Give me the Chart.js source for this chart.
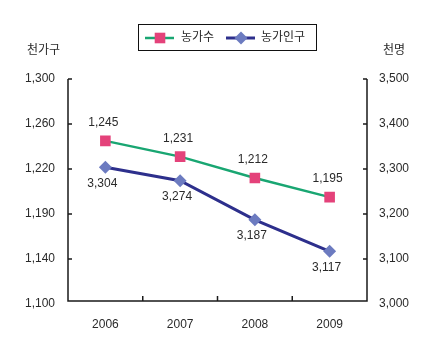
<!DOCTYPE html>
<html>
<head>
<meta charset="utf-8">
<script src="https://cdn.jsdelivr.net/npm/chart.js@4.4.1/dist/chart.umd.min.js"></script>
<style>
  html, body { margin: 0; padding: 0; background: #fff; }
  #wrap { width: 441px; height: 351px; }
</style>
</head>
<body>
<div id="wrap"><canvas id="chart" width="441" height="351"></canvas></div>
<script>
const years = ["2006", "2007", "2008", "2009"];
const households = [1245, 1231, 1212, 1195];   // 농가수 (천가구)
const population = [3304, 3274, 3187, 3117];   // 농가인구 (천명)
const leftTickLabels = ["1,100", "1,140", "1,190", "1,220", "1,260", "1,300"];
const seriesNames = ["농가수", "농가인구"];
const leftUnit = "천가구";
const rightUnit = "천명";

const FONT = "'Liberation Sans', 'Noto Sans CJK KR', sans-serif";
const TEXT = "#2a2a2a";
const fmt = (v) => v.toLocaleString("en-US");

//draws axis lines, inward tick marks, unit titles, legend and value labels
const decor = {
  id: "decor",
  afterDatasetsDraw(chart) {
    const ctx = chart.ctx;
    const area = chart.chartArea;
    const x = chart.scales.x, yl = chart.scales.y, yr = chart.scales.y1;
    const base = area.bottom - 3;
    ctx.save();
    ctx.strokeStyle = "#1a1a1a";
    ctx.lineWidth = 1.5;
    ctx.beginPath();
    ctx.moveTo(area.left, area.top);
    ctx.lineTo(area.left, base);
    ctx.lineTo(area.right, base);
    ctx.lineTo(area.right, area.top);
    //y ticks pointing inwards
    yl.ticks.forEach((t, i) => {
      const py = Math.min(yl.getPixelForTick(i), base);
      ctx.moveTo(area.left, py); ctx.lineTo(area.left + 4, py);
    });
    yr.ticks.forEach((t, i) => {
      const py = Math.min(yr.getPixelForTick(i), base);
      ctx.moveTo(area.right, py); ctx.lineTo(area.right - 4, py);
    });
    //x ticks between categories
    for (let i = 1; i < years.length; i++) {
      const px = (x.getPixelForTick(i - 1) + x.getPixelForTick(i)) / 2;
      ctx.moveTo(px, base); ctx.lineTo(px, base - 5);
    }
    ctx.stroke();

    //unit titles
    ctx.fillStyle = TEXT;
    ctx.font = "12px " + FONT;
    ctx.textBaseline = "middle";
    ctx.textAlign = "left";
    ctx.fillText(leftUnit, 27, 51);
    ctx.fillText(rightUnit, 383, 51);

    //value labels
    ctx.textAlign = "center";
    chart.getDatasetMeta(0).data.forEach((p, i) => {
      ctx.fillText(fmt(households[i]), p.x - 2, p.y - 18);
    });
    chart.getDatasetMeta(1).data.forEach((p, i) => {
      ctx.fillText(fmt(population[i]), p.x - 3, p.y + 16);
    });

    //legend box
    ctx.lineWidth = 1;
    ctx.strokeStyle = "#111";
    ctx.strokeRect(138.5, 24.5, 178, 26);
    const items = [[145, 181], [226, 261]];
    chart.data.datasets.forEach((ds, i) => {
      const [lx, tx] = items[i];
      ctx.strokeStyle = ds.borderColor;
      ctx.lineWidth = ds.borderWidth;
      ctx.beginPath();
      ctx.moveTo(lx, 38); ctx.lineTo(lx + 29, 38);
      ctx.stroke();
      ctx.fillStyle = ds.pointBackgroundColor;
      Chart.helpers.drawPoint(ctx, {
        pointStyle: ds.pointStyle, radius: ds.pointRadius, rotation: 0, borderWidth: 0
      }, lx + 15, 38);
      ctx.fillStyle = TEXT;
      ctx.textAlign = "left";
      ctx.fillText(seriesNames[i], tx, 38);
    });
    ctx.restore();
  },
};

new Chart(document.getElementById("chart"), {
  type: "line",
  plugins: [decor],
  data: {
    labels: years,
    datasets: [
      {
        label: seriesNames[0],
        data: households,
        yAxisID: "y",
        borderColor: "#19a672",
        borderWidth: 2.5,
        pointStyle: "rect",
        pointRadius: 7.5,
        pointBorderWidth: 0,
        pointBackgroundColor: "#e4427a",
        tension: 0,
      },
      {
        label: seriesNames[1],
        data: population,
        yAxisID: "y1",
        borderColor: "#2d2f8c",
        borderWidth: 3,
        pointStyle: "rectRot",
        pointRadius: 6.5,
        pointBorderWidth: 0,
        pointBackgroundColor: "#6c7bc0",
        tension: 0,
      },
    ],
  },
  options: {
    responsive: false,
    animation: false,
    layout: { padding: { top: 79, left: 0, right: 0, bottom: 0 } },
    plugins: { legend: { display: false }, tooltip: { enabled: false } },
    scales: {
      x: {
        offset: true,
        grid: { display: false, drawTicks: false },
        border: { display: false },
        ticks: { color: TEXT, font: { family: FONT, size: 12 }, padding: 13, maxRotation: 0 },
        afterFit: (s) => { s.height = 47; },
      },
      y: {
        position: "left",
        min: 1100,
        max: 1300,
        grid: { display: false, drawTicks: false },
        border: { display: false },
        ticks: {
          stepSize: 40,
          color: TEXT,
          font: { family: FONT, size: 12 },
          padding: 13,
          callback: (v, i) => leftTickLabels[i],
        },
        afterFit: (s) => { s.width = 68; },
      },
      y1: {
        position: "right",
        min: 3000,
        max: 3500,
        grid: { display: false, drawTicks: false },
        border: { display: false },
        ticks: {
          stepSize: 100,
          color: TEXT,
          font: { family: FONT, size: 12 },
          padding: 12,
          callback: (v) => fmt(v),
        },
        afterFit: (s) => { s.width = 74; },
      },
    },
  },
});
</script>
</body>
</html>
